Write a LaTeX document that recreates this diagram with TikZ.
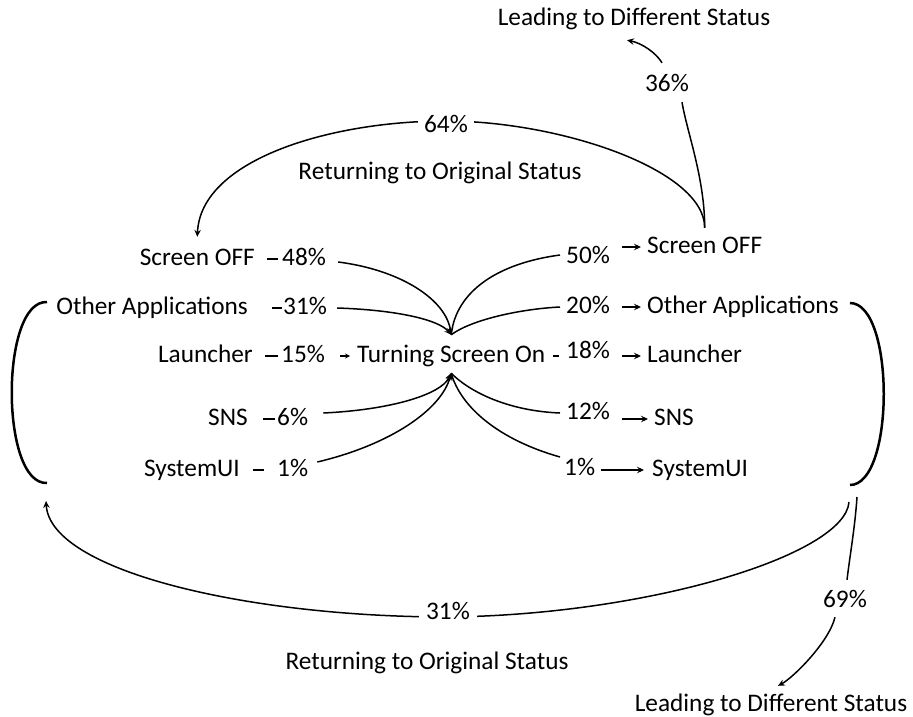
\documentclass[tikz,border=0pt]{standalone}
\usepackage{fontspec}
\setmainfont{Carlito}
\usetikzlibrary{arrows.meta}
\begin{document}
\begin{tikzpicture}[x=1pt,y=-1pt,
  txt/.style={font=\fontsize{25.3pt}{30pt}\selectfont, inner sep=0pt, text height=17pt, text depth=5pt},
  conn/.style={line width=1.5pt},
  arr/.style={line width=1.5pt, -{Stealth[length=7pt,width=6.5pt,inset=2.5pt]}},
  sarr/.style={line width=1.5pt, -{Stealth[length=5pt,width=5pt,inset=2pt]}},
  brk/.style={line width=2.5pt},
  lbl/.style={txt, fill=white, inner xsep=6pt}
]
\useasboundingbox (0,0) rectangle (913,717);

% left names
\node[txt, anchor=base east] (soffL) at (255,265) {Screen OFF};
\node[txt, anchor=base east] (othL) at (248,314) {Other Applications};
\node[txt, anchor=base east] (lauL) at (253,362) {Launcher};
\node[txt, anchor=base east] (snsL) at (248,425) {SNS};
\node[txt, anchor=base east] (sysL) at (240,476) {SystemUI};
% left percentages
\node[txt, anchor=base west] (p48) at (282,265) {48\%};
\node[txt, anchor=base west] (p31) at (283,314) {31\%};
\node[txt, anchor=base west] (p15) at (281,362) {15\%};
\node[txt, anchor=base west] (p6) at (277,425) {6\%};
\node[txt, anchor=base west] (p1L) at (277,476) {1\%};
% centre
\node[txt, anchor=base west] (ts) at (357,362) {Turning Screen On};
% right percentages
\node[txt, anchor=base west] (p50) at (566,263) {50\%};
\node[txt, anchor=base west] (p20) at (566,313) {20\%};
\node[txt, anchor=base west] (p18) at (566,358) {18\%};
\node[txt, anchor=base west] (p12) at (566,419) {12\%};
\node[txt, anchor=base west] (p1R) at (564,475) {1\%};
% right names
\node[txt, anchor=base west] (soffR) at (647,253) {Screen OFF};
\node[txt, anchor=base west] (othR) at (647,313) {Other Applications};
\node[txt, anchor=base west] (lauR) at (647,362) {Launcher};
\node[txt, anchor=base west] (snsR) at (654,425) {SNS};
\node[txt, anchor=base west] (sysR) at (652,476) {SystemUI};
% top and bottom texts
\node[txt, anchor=base] (lead1) at (634,26) {Leading to Different Status};
\node[txt, anchor=base] (p36) at (667,92) {36\%};
\node[txt, anchor=base] (ret1) at (440,179) {Returning to Original Status};
\node[txt, anchor=base] (ret2) at (427,669) {Returning to Original Status};
\node[txt, anchor=base] (p69) at (845,607) {69\%};
\node[txt, anchor=base] (lead2) at (771,711) {Leading to Different Status};

% helper coordinates
\coordinate (T) at ([yshift=10pt]ts.north);
\coordinate (B) at ([yshift=-6pt]ts.south);
\coordinate (A) at ([yshift=8pt]soffR.north);
\coordinate (M1) at (446,121);
\coordinate (M2) at (448,617);
\coordinate (bLt) at (47,302);
\coordinate (bLb) at (47,483);
\coordinate (bRt) at (850,303);
\coordinate (bRb) at (850,485);
\coordinate (C) at (849,502);
\coordinate (D) at (857,497);
\coordinate (tipL) at (46,501);

% dashes on the left
\draw[conn, shorten <=12pt, shorten >=4pt] (soffL.east) -- (p48.west);
\draw[conn, shorten <=24pt, shorten >=1pt] (othL.east) -- (p31.west);
\draw[conn, shorten <=12pt, shorten >=3pt] (lauL.east) -- (p15.west);
\draw[conn, shorten <=15pt, shorten >=2pt] (snsL.east) -- (p6.west);
\draw[conn, shorten <=13pt, shorten >=13pt] (sysL.east) -- (p1L.west);

% centre row
\draw[sarr, shorten <=15pt, shorten >=7pt] (p15.east) -- (ts.west);
\draw[conn, shorten <=8pt, shorten >=7pt] (ts.east) -- (ts.east -| p18.west);

% right arrows
\draw[arr, shorten <=12pt, shorten >=6pt] (p50.east |- soffR.west) -- (soffR.west);
\draw[arr, shorten <=12pt, shorten >=6pt] (p20.east |- othR.west) -- (othR.west);
\draw[arr, shorten <=12pt, shorten >=6pt] (p18.east |- lauR.west) -- (lauR.west);
\draw[arr, shorten <=12pt, shorten >=6pt] (p12.east |- snsR.west) -- (snsR.west);
\draw[arr, shorten <=6pt, shorten >=8pt] (p1R.east |- sysR.west) -- (sysR.west);

% curves into Turning Screen On
\draw[arr] ([xshift=12pt,yshift=-3pt]p48.east) .. controls +(63,8) and +(-5,-35) .. (T);
\draw[arr] ([xshift=10pt]p31.east) .. controls +(60,2) and +(-12,-15) .. (T);
\draw[arr] ([xshift=15pt,yshift=6pt]p6.east) .. controls +(65,-3) and +(-10,22) .. (B);
\draw[arr] ([xshift=9pt,yshift=8pt]p1L.east) .. controls +(72,-17) and +(-10,37) .. (B);

% curves out of Turning Screen On
\draw[conn] (T) .. controls +(5,-45) and +(-60,8) .. ([xshift=-6pt,yshift=2pt]p50.west);
\draw[conn] (T) .. controls +(20,-15) and +(-40,2) .. ([xshift=-6pt]p20.west);
\draw[conn] (B) .. controls +(20,20) and +(-50,-2) .. ([xshift=-6pt]p12.west);
\draw[conn] (B) .. controls +(10,35) and +(-60,-17) .. ([xshift=-4pt,yshift=12pt]p1R.west);

% top: 64% and 36%
\draw[arr] (A) .. controls +(0,-58) and +(114,0) .. (M1) .. controls +(-116,0) and +(3,-77) .. ([yshift=11pt]soffL.north);
\node[lbl, anchor=base] (p64) at (446,132) {64\%};
\draw[conn] (A) .. controls +(0,-50) and +(5,30) .. ([xshift=15pt,yshift=-5pt]p36.south);
\draw[arr] ([xshift=-5pt,yshift=12pt]p36.north) .. controls +(-6,-10) and +(15,3) .. ([xshift=-7pt,yshift=-9pt]lead1.south);

% brackets
\draw[brk] (bLt) .. controls +(-47,-2) and +(-47,2) .. (bLb);
\draw[brk] (bRt) .. controls +(45,0) and +(45,0) .. (bRb);

% bottom: 31% and 69%
\draw[arr] (C) .. controls +(-4,53) and +(200,-2) .. (M2) .. controls +(-200,0) and +(4,70) .. (tipL);
\node[lbl, anchor=base, inner xsep=7pt] (p31b) at (448,619) {31\%};
\draw[conn] (D) .. controls +(-2,30) and +(3,-25) .. ([xshift=2pt,yshift=10pt]p69.north);
\draw[arr] ([xshift=-10pt,yshift=-5pt]p69.south) .. controls +(-6,25) and +(15,-8) .. ([xshift=7pt,yshift=8pt]lead2.north);
\end{tikzpicture}
\end{document}
